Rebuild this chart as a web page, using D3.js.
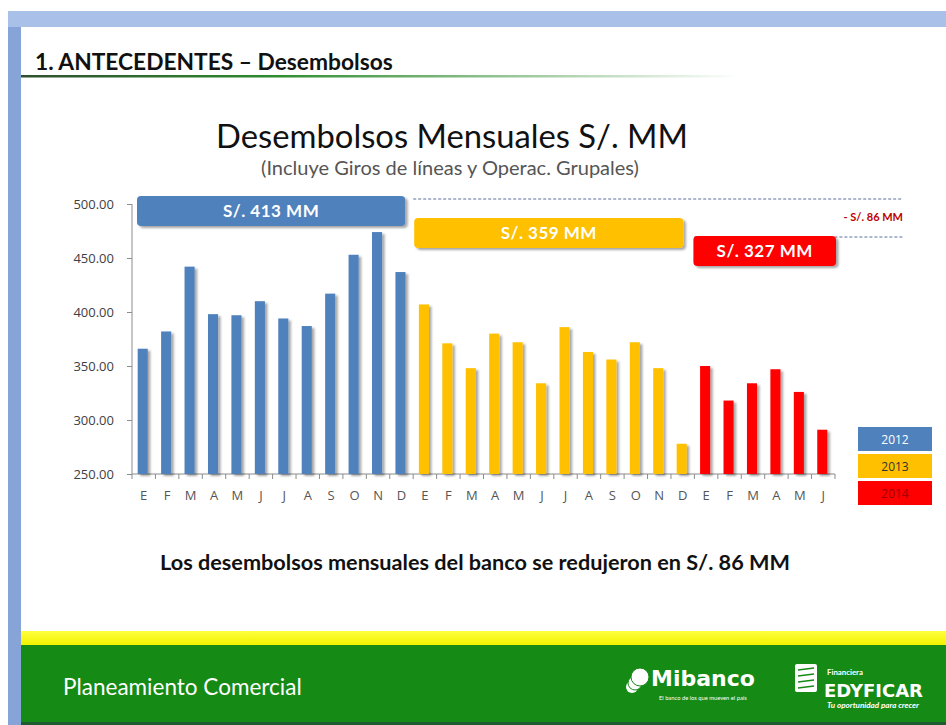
<!DOCTYPE html>
<html>
<head>
<meta charset="utf-8">
<script src="https://cdn.jsdelivr.net/npm/d3@7/dist/d3.min.js"></script>
<style>
  body { margin: 0; background: #fff; }
  svg { display: block; font-family: Lato, "Open Sans", sans-serif; }
</style>
</head>
<body>
<div id="viz"></div>
<script>
// Data (S/. MM per month)
var years = ["2012", "2013", "2014"];
var months = ["E", "F", "M", "A", "M", "J", "J", "A", "S", "O", "N", "D"];
var values2012 = [366, 382, 442, 398, 397, 410, 394, 387, 417, 453, 474, 437];
var values2013 = [407, 371, 348, 380, 372, 334, 386, 363, 356, 372, 348, 278];
var values2014 = [350, 318, 334, 347, 326, 291];
var averages = [413, 359, 327];
var reduction = 86;
var yTicks = [250, 300, 350, 400, 450, 500];

var colors = ["#4f81bd", "#ffc000", "#ff0000"];

// flatten into one list of bars
var bars = [];
[values2012, values2013, values2014].forEach(function(vals, yi) {
    vals.forEach(function(v, mi) {
        bars.push({ key: years[yi] + "-" + mi, year: yi, month: months[mi], value: v });
    });
});

var width = 946, height = 725;
var plotLeft = 132, plotRight = 835, plotTop = 204, plotBottom = 474;

var svg = d3.select("#viz").append("svg")
    .attr("width", width)
    .attr("height", height);

var defs = svg.append("defs");
defs.append("filter").attr("id", "shadow")
    .attr("x", "-50%").attr("y", "-10%").attr("width", "200%").attr("height", "130%")
    .append("feDropShadow")
    .attr("dx", 2.5).attr("dy", 2).attr("stdDeviation", 1.2)
    .attr("flood-color", "#000").attr("flood-opacity", 0.35);

var lineGrad = defs.append("linearGradient").attr("id", "underline");
lineGrad.append("stop").attr("offset", "0%").attr("stop-color", "#2f4f2f");
lineGrad.append("stop").attr("offset", "35%").attr("stop-color", "#2e8b2e");
lineGrad.append("stop").attr("offset", "100%").attr("stop-color", "#2e8b2e").attr("stop-opacity", 0);

var topGrad = defs.append("linearGradient").attr("id", "frameTop").attr("x2", 0).attr("y2", 1);
topGrad.append("stop").attr("offset", "0%").attr("stop-color", "#a9c1e8");
topGrad.append("stop").attr("offset", "100%").attr("stop-color", "#9bb5e0");

var yellowGrad = defs.append("linearGradient").attr("id", "yellowBand").attr("x2", 0).attr("y2", 1);
yellowGrad.append("stop").attr("offset", "0%").attr("stop-color", "#ffff40");
yellowGrad.append("stop").attr("offset", "100%").attr("stop-color", "#f2f200");

// Slide frame
svg.append("rect").attr("x", 8).attr("y", 11).attr("width", width - 8).attr("height", height - 11)
    .attr("fill", "url(#frameTop)");
svg.append("rect").attr("x", 8).attr("y", 27).attr("width", 13).attr("height", height - 27)
    .attr("fill", "#87a4d8");
svg.append("rect").attr("x", 21).attr("y", 27).attr("width", width - 21).attr("height", height - 27)
    .attr("fill", "#fff");

// Footer
svg.append("rect").attr("x", 21).attr("y", 631).attr("width", width - 21).attr("height", 14)
    .attr("fill", "url(#yellowBand)");
svg.append("rect").attr("x", 21).attr("y", 645).attr("width", width - 21).attr("height", 77)
    .attr("fill", "#158a15");
svg.append("rect").attr("x", 21).attr("y", 722).attr("width", width - 21).attr("height", 3)
    .attr("fill", "#205a30");

function fitWidth(sel, w) {
    var fs = parseFloat(sel.attr("font-size"));
    sel.attr("font-size", fs * w / sel.node().getComputedTextLength());
    return sel;
}

// Header
fitWidth(svg.append("text").attr("x", 35).attr("y", 70)
    .attr("font-size", 19).attr("font-weight", "bold").attr("fill", "#111")
    .text("1. ANTECEDENTES – Desembolsos"), 358);
svg.append("rect").attr("x", 21).attr("y", 75).attr("width", 720).attr("height", 2.5)
    .attr("fill", "url(#underline)");

// Titles
fitWidth(svg.append("text").attr("x", 452).attr("y", 148).attr("text-anchor", "middle")
    .attr("font-size", 30).attr("fill", "#111")
    .text("Desembolsos Mensuales S/. MM"), 472);
fitWidth(svg.append("text").attr("x", 450).attr("y", 175).attr("text-anchor", "middle")
    .attr("font-size", 15).attr("fill", "#555")
    .text("(Incluye Giros de líneas y Operac. Grupales)"), 378);

// Scales
var x = d3.scaleBand()
    .domain(bars.map(function(d) { return d.key; }))
    .range([plotLeft, plotRight])
    .paddingInner(0.57)
    .paddingOuter(0.285);

var y = d3.scaleLinear().domain([250, 500]).range([plotBottom, plotTop]);

// Y axis
var yAxis = svg.append("g")
    .attr("transform", "translate(" + plotLeft + ",0)")
    .call(d3.axisLeft(y).tickValues(yTicks).tickFormat(d3.format(".2f")).tickSize(5).tickPadding(13));
yAxis.select(".domain").attr("stroke", "#8c8c8c").attr("d", "M0," + plotTop + "V" + plotBottom);
yAxis.selectAll(".tick line").attr("stroke", "#8c8c8c");
yAxis.selectAll(".tick text").attr("fill", "#404040").attr("font-size", 13)
    .attr("font-family", "'Open Sans', Lato, sans-serif");

// X axis: labels centred on bands, ticks on band edges
var xAxis = svg.append("g")
    .attr("transform", "translate(0," + plotBottom + ")")
    .call(d3.axisBottom(x).tickSize(0).tickPadding(17)
        .tickFormat(function(k) { return bars.find(function(b) { return b.key === k; }).month; }));
xAxis.select(".domain").attr("stroke", "#8c8c8c").attr("d", "M" + plotLeft + ",0H" + plotRight);
xAxis.selectAll(".tick text").attr("fill", "#555").attr("font-size", 13)
    .attr("font-family", "'Open Sans', Lato, sans-serif");

var edges = d3.range(bars.length + 1).map(function(i) { return plotLeft + i * x.step(); });
svg.append("g").selectAll("line").data(edges).enter().append("line")
    .attr("x1", function(d) { return d; }).attr("x2", function(d) { return d; })
    .attr("y1", plotBottom).attr("y2", plotBottom + 5)
    .attr("stroke", "#8c8c8c");

// Bars
svg.append("g").selectAll("rect").data(bars).enter().append("rect")
    .attr("x", function(d) { return x(d.key) - 1; })
    .attr("y", function(d) { return y(d.value); })
    .attr("width", x.bandwidth())
    .attr("height", function(d) { return plotBottom - y(d.value); })
    .attr("fill", function(d) { return colors[d.year]; })
    .attr("filter", "url(#shadow)");

// Dashed reference lines and reduction note
var dashColor = "#5b6f9c";
svg.append("line").attr("x1", plotLeft + 12 * x.step()).attr("x2", 903).attr("y1", 199).attr("y2", 199)
    .attr("stroke", dashColor).attr("stroke-dasharray", "3,2");
svg.append("line").attr("x1", plotLeft + 24 * x.step()).attr("x2", 903).attr("y1", 237).attr("y2", 237)
    .attr("stroke", dashColor).attr("stroke-dasharray", "3,2");
svg.append("text").attr("x", 903).attr("y", 221).attr("text-anchor", "end")
    .attr("font-size", 11).attr("font-weight", "bold").attr("fill", "#c00000")
    .text("- S/. " + reduction + " MM");

// Average boxes per year
var groups = [
    { start: 0, end: 12, top: plotTop - 8, x0: 5, x1: -8 },
    { start: 12, end: 24, top: plotTop + 14, x0: 1, x1: -11 },
    { start: 24, end: 30, top: plotTop + 32, x0: -1, x1: 1 }
];
var box = svg.append("g").selectAll("g").data(groups).enter().append("g");
box.append("rect")
    .attr("x", function(d) { return plotLeft + d.start * x.step() + d.x0; })
    .attr("y", function(d) { return d.top; })
    .attr("width", function(d) { return (d.end - d.start) * x.step() - d.x0 + d.x1; })
    .attr("height", 30)
    .attr("rx", 4)
    .attr("fill", function(d, i) { return colors[i]; })
    .attr("filter", "url(#shadow)");
box.append("text")
    .attr("x", function(d) { return plotLeft + (d.start + d.end) / 2 * x.step() + (d.x0 + d.x1) / 2; })
    .attr("y", function(d) { return d.top + 21; })
    .attr("text-anchor", "middle")
    .attr("font-size", 17).attr("font-weight", "bold").attr("fill", "#fff")
    .attr("letter-spacing", 0.5)
    .text(function(d, i) { return "S/. " + averages[i] + " MM"; });

// Legend
var legendText = ["#fff", "#333", "#a00000"];
var legend = svg.append("g").attr("transform", "translate(858,427)")
    .selectAll("g").data(years).enter().append("g")
    .attr("transform", function(d, i) { return "translate(0," + i * 27 + ")"; });
legend.append("rect").attr("width", 74).attr("height", 24)
    .attr("fill", function(d, i) { return colors[i]; });
legend.append("text").attr("x", 37).attr("y", 16.5).attr("text-anchor", "middle")
    .attr("font-size", 12).attr("fill", function(d, i) { return legendText[i]; })
    .attr("font-family", "'Open Sans', Lato, sans-serif")
    .text(function(d) { return d; });

// Conclusion
fitWidth(svg.append("text").attr("x", 475).attr("y", 570).attr("text-anchor", "middle")
    .attr("font-size", 19).attr("font-weight", "bold").attr("fill", "#111")
    .text("Los desembolsos mensuales del banco se redujeron en S/. " + reduction + " MM"), 630);

// Footer text and logos
fitWidth(svg.append("text").attr("x", 63).attr("y", 695)
    .attr("font-size", 18).attr("fill", "#fff")
    .text("Planeamiento Comercial"), 239);

var mib = svg.append("g").attr("fill", "#fff");
mib.append("circle").attr("cx", 632).attr("cy", 687).attr("r", 6);
mib.append("circle").attr("cx", 635).attr("cy", 683).attr("r", 7).attr("stroke", "#158a15");
mib.append("circle").attr("cx", 640).attr("cy", 677).attr("r", 9).attr("stroke", "#158a15");
fitWidth(mib.append("text").attr("x", 651).attr("y", 686)
    .attr("font-size", 24).attr("font-weight", 900)
    .attr("font-family", "'DejaVu Sans', sans-serif")
    .text("Mibanco"), 104);
fitWidth(mib.append("text").attr("x", 659).attr("y", 700)
    .attr("font-size", 6)
    .text("El banco de los que mueven el país"), 88);

var edy = svg.append("g").attr("fill", "#fff");
edy.append("rect").attr("x", 795).attr("y", 664).attr("width", 22).attr("height", 28).attr("rx", 2);
edy.selectAll(".stripe").data([0, 1, 2, 3]).enter().append("line")
    .attr("x1", 798).attr("x2", 814)
    .attr("y1", function(d) { return 670 + d * 6; }).attr("y2", function(d) { return 668 + d * 6; })
    .attr("stroke", "#158a15").attr("stroke-width", 1.5);
fitWidth(edy.append("text").attr("x", 827).attr("y", 675)
    .attr("font-size", 9).attr("font-weight", "bold").text("Financiera"), 36);
fitWidth(edy.append("text").attr("x", 824).attr("y", 697)
    .attr("font-size", 20).attr("font-weight", 900)
    .attr("font-family", "'DejaVu Sans', sans-serif").text("EDYFICAR"), 99);
fitWidth(edy.append("text").attr("x", 827).attr("y", 708)
    .attr("font-size", 7).attr("font-weight", "bold").attr("font-style", "italic")
    .text("Tu oportunidad para crecer"), 92);
</script>
</body>
</html>
